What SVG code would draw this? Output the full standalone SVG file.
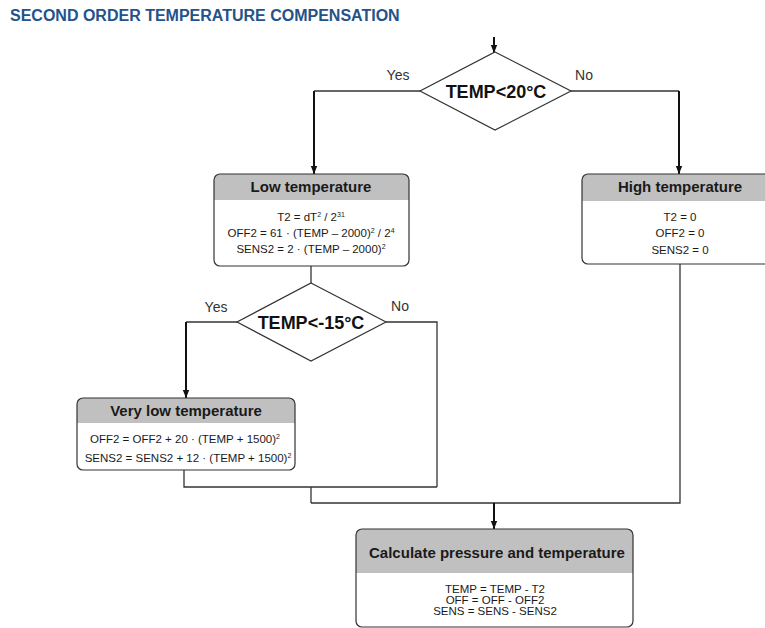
<svg xmlns="http://www.w3.org/2000/svg" width="765" height="628" viewBox="0 0 765 628">
  <style>
    .title { font-family: "Liberation Sans", Arial, sans-serif; font-size: 16px; font-weight: bold; fill: #24528a; }
    .box { fill: none; stroke: #333; stroke-width: 1.2; }
    .head { fill: #c0c0c0; }
    .htext { font-family: "Liberation Sans", Arial, sans-serif; font-size: 15px; font-weight: bold; fill: #1a1a1a; text-anchor: middle; }
    .btext { font-family: "Liberation Sans", Arial, sans-serif; font-size: 11.5px; fill: #1a1a1a; text-anchor: middle; }
    .sup { font-size: 7px; }
    .dia { fill: #fff; stroke: #333; stroke-width: 1.2; }
    .dtext { font-family: "Liberation Sans", Arial, sans-serif; font-size: 18px; font-weight: bold; fill: #111; text-anchor: middle; }
    .lbl { font-family: "Liberation Sans", Arial, sans-serif; font-size: 14px; fill: #333; text-anchor: middle; }
    .wire { fill: none; stroke: #333; stroke-width: 1.3; }
    .arrow { fill: none; stroke: #111; stroke-width: 2; marker-end: url(#arr); }
  </style>
  <defs>
    <marker id="arr" viewBox="0 0 10 10" refX="10" refY="5" markerWidth="8" markerHeight="8" markerUnits="userSpaceOnUse" orient="auto">
      <path d="M0,1 L10,5 L0,9 z" fill="#111"/>
    </marker>
  </defs>

  <rect width="765" height="628" fill="#fff"/>

  <text class="title" x="10" y="21">SECOND ORDER TEMPERATURE COMPENSATION</text>

  <!-- connectors -->
  <g id="connectors">
    <line class="arrow" x1="494" y1="37" x2="494" y2="53"/>
    <polyline class="wire" points="420,91 314,91"/>
    <line class="arrow" x1="314" y1="91" x2="314" y2="174"/>
    <polyline class="wire" points="571,91 679,91"/>
    <line class="arrow" x1="679" y1="91" x2="679" y2="174"/>
    <line class="wire" x1="311" y1="266" x2="311" y2="283"/>
    <polyline class="wire" points="237,322 186,322"/>
    <line class="arrow" x1="186" y1="322" x2="186" y2="398"/>
    <polyline class="wire" points="386,322 437,322 437,487"/>
    <polyline class="wire" points="184,470 184,487 437,487"/>
    <polyline class="wire" points="311,487 311,503"/>
    <polyline class="wire" points="680,264 680,503 311,503"/>
    <line class="arrow" x1="494" y1="503" x2="494" y2="529"/>
    <text class="lbl" x="398" y="80">Yes</text>
    <text class="lbl" x="584" y="80">No</text>
    <text class="lbl" x="216" y="312">Yes</text>
    <text class="lbl" x="400" y="311">No</text>
  </g>

  <!-- decision: TEMP < 20 °C -->
  <g id="dec-20">
    <polygon class="dia" points="495,52 571,91 495,130 420,91"/>
    <text class="dtext" x="496" y="98">TEMP&lt;20°C</text>
  </g>

  <!-- low temperature -->
  <g id="low-temp">
    <path class="head" d="M214,200 V180 A6,6 0 0 1 220,174 H403 A6,6 0 0 1 409,180 V200 Z"/>
    <rect class="box" x="214" y="174" width="195" height="92" rx="6"/>
    <text class="htext" x="311" y="192">Low temperature</text>
    <text class="btext" x="311" y="221">T2 = dT<tspan class="sup" dy="-4">2</tspan><tspan dy="4"> / 2</tspan><tspan class="sup" dy="-4">31</tspan></text>
    <text class="btext" x="311" y="237">OFF2 = 61 · (TEMP – 2000)<tspan class="sup" dy="-4">2</tspan><tspan dy="4"> / 2</tspan><tspan class="sup" dy="-4">4</tspan></text>
    <text class="btext" x="311" y="253">SENS2 = 2 · (TEMP – 2000)<tspan class="sup" dy="-4">2</tspan></text>
  </g>

  <!-- high temperature -->
  <g id="high-temp">
    <path class="head" d="M582,201 V180 A6,6 0 0 1 588,174 H772 A6,6 0 0 1 778,180 V201 Z"/>
    <rect class="box" x="582" y="174" width="196" height="90" rx="6"/>
    <text class="htext" x="680" y="192">High temperature</text>
    <text class="btext" x="680" y="221">T2 = 0</text>
    <text class="btext" x="680" y="237">OFF2 = 0</text>
    <text class="btext" x="680" y="254">SENS2 = 0</text>
  </g>

  <!-- decision: TEMP < -15 °C -->
  <g id="dec-15">
    <polygon class="dia" points="311,283 386,322 311,361 237,322"/>
    <text class="dtext" x="311" y="329">TEMP&lt;-15°C</text>
  </g>

  <!-- very low temperature -->
  <g id="very-low-temp">
    <path class="head" d="M77,423 V404 A6,6 0 0 1 83,398 H289 A6,6 0 0 1 295,404 V423 Z"/>
    <rect class="box" x="77" y="398" width="218" height="72" rx="6"/>
    <text class="htext" x="186" y="416">Very low temperature</text>
    <text class="btext" x="185" y="443">OFF2 = OFF2 + 20 · (TEMP + 1500)<tspan class="sup" dy="-4">2</tspan></text>
    <text class="btext" x="188" y="462">SENS2 = SENS2 + 12 · (TEMP + 1500)<tspan class="sup" dy="-4">2</tspan></text>
  </g>

  <!-- final calculation -->
  <g id="calc">
    <path class="head" d="M356,573 V535 A6,6 0 0 1 362,529 H627 A6,6 0 0 1 633,535 V573 Z"/>
    <rect class="box" x="356" y="529" width="277" height="98" rx="6"/>
    <text class="htext" x="497" y="558">Calculate pressure and temperature</text>
    <text class="btext" x="495" y="593">TEMP = TEMP - T2</text>
    <text class="btext" x="495" y="604">OFF = OFF - OFF2</text>
    <text class="btext" x="495" y="615">SENS = SENS - SENS2</text>
  </g>
</svg>
